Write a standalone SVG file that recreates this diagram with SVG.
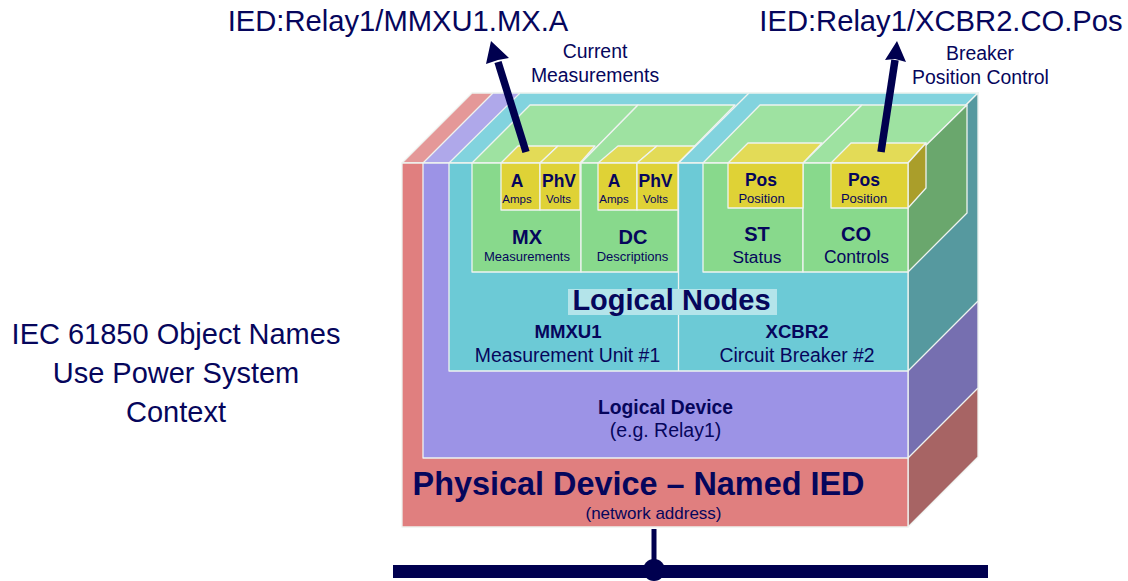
<svg xmlns="http://www.w3.org/2000/svg" width="1128" height="581" viewBox="0 0 1128 581">
<defs><style>
text{font-family:"Liberation Sans",Arial,sans-serif;fill:#06065c;text-anchor:middle}
.b{font-weight:bold}
.e{stroke:#eef3f0;stroke-width:1.3;stroke-linejoin:round}
.rf{fill:#e07f7f}.rt{fill:#e49898}.rs{fill:#a76464}
.pf{fill:#9c93e6}.pt{fill:#afa8ea}.ps{fill:#766fb0}
.tf{fill:#6ccad6}.tt{fill:#82d3de}.ts{fill:#56999f}
.gf{fill:#88d98c}.gt{fill:#9ee2a1}.gs{fill:#6aa76d}
.yf{fill:#dfd236}.yt{fill:#e3db57}.ys{fill:#aa9e2a}
.a{stroke:#00004f;stroke-width:7.500;fill:none}
.l{font-size:19.400px}
.m{font-size:20px}
.y{font-size:17.500px}
.s{font-size:11.500px}
.p{font-size:13px}
</style></defs>
<rect width="1128" height="581" fill="#fff"/>
<g id="caption">
<text x="176" y="344" font-size="29">IEC 61850 Object Names</text>
<text x="176" y="383" font-size="29">Use Power System</text>
<text x="176" y="422" font-size="29">Context</text>
</g>
<g id="physical-device">
<polygon class="rt e" points="402,163 472,93 978,93 908,163"/>
<polygon class="rs e" points="908,163 978,93 978,457 908,527"/>
<rect class="rf e" x="402" y="163" width="506" height="364"/>
<text class="b" x="638.500" y="495" font-size="32.400">Physical Device – Named IED</text>
<text x="653.500" y="519" font-size="17">(network address)</text>
</g>
<g id="logical-device">
<polygon class="pt e" points="423,163 493,93 978,93 908,163"/>
<polygon class="ps e" points="908,163 978,93 978,388 908,458"/>
<rect class="pf e" x="423" y="163" width="485" height="295"/>
<text class="b" x="665.500" y="414" font-size="19.300">Logical Device</text>
<text x="665.500" y="437" font-size="19.500">(e.g. Relay1)</text>
</g>
<g id="logical-nodes">
<polygon class="tt e" points="449,163 520,93 978,93 908,163"/>
<polygon class="ts e" points="908,163 978,93 978,301 908,371"/>
<rect class="tf e" x="449" y="163" width="459" height="208"/>
<line class="e" x1="678.500" y1="163" x2="678.500" y2="371"/>
<line class="e" x1="678.500" y1="163" x2="749" y2="93"/>
<rect x="568" y="289" width="209" height="26" fill="#b4e4ea"/>
<text class="b" x="671.500" y="310" font-size="29">Logical Nodes</text>
</g>
<g id="mmxu1">
<text class="b" x="568" y="338" font-size="18.600">MMXU1</text>
<text class="l" x="567.500" y="362">Measurement Unit #1</text>
</g>
<g id="xcbr2">
<text class="b" x="797" y="338" font-size="18.600">XCBR2</text>
<text class="l" x="797" y="362">Circuit Breaker #2</text>
</g>
<g id="mx">
<polygon class="gt e" points="472,163 530,105 638,105 581,163"/>
<rect class="gf e" x="472" y="163" width="109" height="109"/>
<text class="b m" x="527" y="244">MX</text>
<text class="p" x="527" y="261">Measurements</text>
</g>
<g id="dc">
<polygon class="gt e" points="581,163 638,105 735,105 678,163"/>
<rect class="gf e" x="581" y="163" width="97" height="109"/>
<text class="b m" x="633" y="244">DC</text>
<text class="p" x="632.500" y="261">Descriptions</text>
</g>
<g id="st">
<polygon class="gt e" points="703,163 760,105 862,105 803,163"/>
<rect class="gf e" x="703" y="163" width="100" height="109"/>
<text class="b m" x="757" y="241">ST</text>
<text x="757" y="263" font-size="17.300">Status</text>
</g>
<g id="co">
<polygon class="gt e" points="803,163 862,105 967,105 908,163"/>
<polygon class="gs e" points="908,163 967,105 967,213 908,272"/>
<rect class="gf e" x="803" y="163" width="105" height="109"/>
<text class="b m" x="856" y="241">CO</text>
<text x="856.500" y="263" font-size="17.500">Controls</text>
</g>
<g id="mx-a">
<polygon class="yt e" points="501,163 518,146 558,146 540,163"/>
<rect class="yf e" x="501" y="163" width="39" height="47"/>
<text class="b y" x="517" y="187">A</text>
<text class="s" x="517" y="203">Amps</text>
</g>
<g id="mx-phv">
<polygon class="yt e" points="540,163 558,146 595,146 580,163"/>
<rect class="yf e" x="540" y="163" width="40" height="47"/>
<text class="b y" x="559" y="187">PhV</text>
<text class="s" x="558.500" y="203">Volts</text>
</g>
<g id="dc-a">
<polygon class="yt e" points="598,163 618,146 657,146 637,163"/>
<rect class="yf e" x="598" y="163" width="39" height="47"/>
<text class="b y" x="614" y="187">A</text>
<text class="s" x="614" y="203">Amps</text>
</g>
<g id="dc-phv">
<polygon class="yt e" points="637,163 657,146 695,146 678,163"/>
<rect class="yf e" x="637" y="163" width="41" height="47"/>
<text class="b y" x="655.500" y="187">PhV</text>
<text class="s" x="655.500" y="203">Volts</text>
</g>
<g id="st-pos">
<polygon class="yt e" points="728,163 748,143 822,143 803,163"/>
<rect class="yf e" x="728" y="163" width="75" height="45"/>
<text class="b y" x="761" y="186">Pos</text>
<text class="p" x="761.500" y="203">Position</text>
</g>
<g id="co-pos">
<polygon class="yt e" points="831,163 851,143 926,143 908,163"/>
<polygon class="ys e" points="908,163 926,143 926,188 908,208"/>
<rect class="yf e" x="831" y="163" width="77" height="45"/>
<text class="b y" x="864" y="186">Pos</text>
<text class="p" x="864" y="203">Position</text>
</g>
<g id="bus">
<rect x="393" y="565" width="595" height="13" fill="#00004f"/>
<circle cx="654" cy="570" r="11" fill="#00004f"/>
</g>
<g id="connectors">
<line x1="654" y1="529" x2="654" y2="566" stroke="#00004f" stroke-width="5"/>
<line class="a" x1="526" y1="152" x2="498" y2="62"/>
<polygon points="491,41 486,64 498,60 509,58" fill="#00004f"/>
<line class="a" x1="881" y1="152" x2="895" y2="60"/>
<polygon points="897,41 885,60 895,59 906,62" fill="#00004f"/>
</g>
<g id="labels">
<text x="398" y="31" font-size="29.200">IED:Relay1/MMXU1.MX.A</text>
<text x="941" y="31" font-size="29.200">IED:Relay1/XCBR2.CO.Pos</text>
<text class="l" x="595" y="58">Current</text>
<text class="l" x="595" y="82">Measurements</text>
<text class="l" x="980" y="60">Breaker</text>
<text class="l" x="980.500" y="84">Position Control</text>
</g>
</svg>
